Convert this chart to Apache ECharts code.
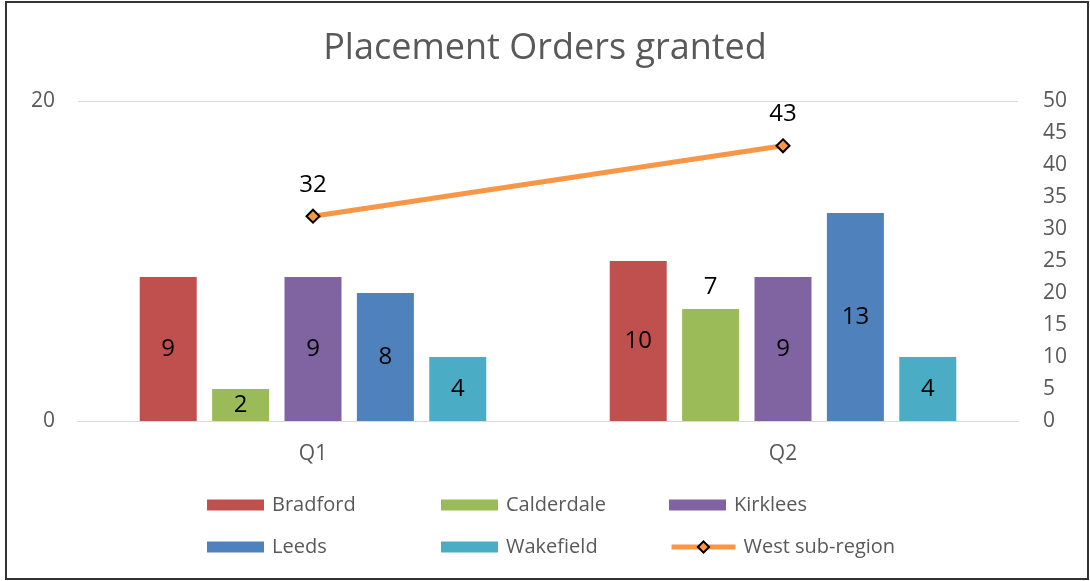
<!DOCTYPE html>
<html>
<head>
<meta charset="utf-8">
<script src="https://cdn.jsdelivr.net/npm/echarts@6/dist/echarts.min.js"></script>
<style>
  html, body { margin: 0; padding: 0; background: #fff; }
  #chart { width: 1090px; height: 581px; }
</style>
</head>
<body>
<div id="chart"></div>
<script>
const quarters = ["Q1", "Q2"];
const bradford = [9, 10];
const calderdale = [2, 7];
const kirklees = [9, 9];
const leeds = [8, 13];
const wakefield = [4, 4];
const westSubRegion = [32, 43];

const font = "'Open Sans', 'Noto Sans', sans-serif";
const grey = "#595959";

const barSeries = [
  { name: "Bradford", data: bradford, color: "#C0504D" },
  { name: "Calderdale", data: calderdale, color: "#9BBB59" },
  { name: "Kirklees", data: kirklees, color: "#8064A2" },
  { name: "Leeds", data: leeds, color: "#4F81BD" },
  { name: "Wakefield", data: wakefield, color: "#4BACC6" },
];

// legend slots: [name, left, top]
const legendSlots = [
  ["Bradford", 207, 495],
  ["Calderdale", 441, 495],
  ["Kirklees", 669, 495],
  ["Leeds", 207, 537],
  ["Wakefield", 441, 537],
  ["West sub-region", 669, 537],
];

const chart = echarts.init(document.getElementById("chart"));

chart.setOption({
  animation: false,
  title: {
    text: "Placement Orders granted",
    left: "center",
    top: 26,
    textStyle: { fontFamily: font, fontSize: 36, fontWeight: "normal", color: grey },
  },
  legend: legendSlots.map(([name, left, top]) => {
    const isLine = name === "West sub-region";
    return {
      data: [{ name: name, icon: isLine ? undefined : "rect" }],
      left: left,
      top: top,
      padding: 0,
      itemWidth: isLine ? 64 : 57,
      itemHeight: isLine ? 14 : 11,
      itemGap: 0,
      lineStyle: isLine ? { width: 5 } : undefined,
      textStyle: { fontFamily: font, fontSize: 20, color: grey, padding: [0, 0, 0, 3] },
    };
  }),
  grid: { left: 78, right: 72, top: 101, bottom: 160 },
  xAxis: {
    type: "category",
    data: quarters,
    axisLine: { lineStyle: { color: "#d9d9d9" } },
    axisTick: { show: false },
    axisLabel: { fontFamily: font, fontSize: 21, color: grey, margin: 23 },
  },
  yAxis: [
    {
      type: "value",
      min: 0,
      max: 20,
      interval: 20,
      axisLabel: { fontFamily: font, fontSize: 21, color: grey, margin: 23 },
      splitLine: { lineStyle: { color: "#d9d9d9" } },
    },
    {
      type: "value",
      min: 0,
      max: 50,
      interval: 5,
      axisLabel: { fontFamily: font, fontSize: 21, color: grey, margin: 25 },
      splitLine: { show: false },
    },
  ],
  series: barSeries.map((s) => ({
    name: s.name,
    type: "bar",
    barWidth: 57,
    barGap: "27%",
    itemStyle: { color: s.color },
    label: {
      show: true,
      position: "inside",
      fontFamily: font,
      fontSize: 24,
      color: "#000",
    },
    data: s.name === "Calderdale"
      ? s.data.map((v, i) => (i === 1 ? { value: v, label: { position: "top", distance: 10 } } : v))
      : s.data,
  })).concat([
    {
      name: "West sub-region",
      type: "line",
      yAxisIndex: 1,
      data: westSubRegion,
      symbol: "diamond",
      symbolSize: 13,
      color: "#F79646",
      lineStyle: { color: "#F79646", width: 5 },
      itemStyle: { color: "#F79646", borderColor: "#000", borderWidth: 2 },
      label: {
        show: true,
        position: "top",
        distance: 12,
        fontFamily: font,
        fontSize: 24,
        color: "#000",
      },
    },
  ]),
  graphic: [
    {
      type: "rect",
      shape: { x: 6, y: 2, width: 1082, height: 577 },
      style: { fill: "none", stroke: "#333", lineWidth: 2 },
      silent: true,
    },
  ],
});
</script>
</body>
</html>
